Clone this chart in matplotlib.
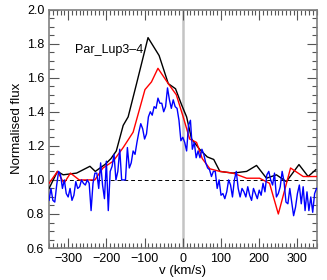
import matplotlib
matplotlib.use("Agg")
import matplotlib.pyplot as plt
from matplotlib.ticker import MultipleLocator

plt.rcParams['font.family'] = ['Liberation Sans', 'DejaVu Sans']

black_v = [-350, -328, -313, -278, -243, -229, -204, -188, -174, -156, -143, -121, -91, -62, -38, -19, -3, 10, 23, 44, 64, 81, 97, 131, 167, 193, 219, 245, 271, 304, 328, 348]
black_f = [0.95, 1.05, 1.03, 1.04, 1.08, 1.05, 1.09, 1.125, 1.17, 1.32, 1.37, 1.565, 1.835, 1.73, 1.565, 1.535, 1.44, 1.37, 1.24, 1.18, 1.135, 1.12, 1.05, 1.04, 1.05, 1.085, 1.01, 1.03, 0.99, 1.09, 1.02, 1.06]

red_v = [-350, -328, -311, -294, -271, -230, -209, -182, -156, -130, -99, -82, -65, -38, -17, 1, 18, 36, 51, 71, 97, 131, 167, 201, 227, 250, 282, 315, 350]
red_f = [0.98, 1.05, 0.98, 1.04, 1.0, 1.0, 1.07, 1.11, 1.19, 1.28, 1.53, 1.575, 1.655, 1.565, 1.5, 1.37, 1.24, 1.22, 1.125, 1.065, 1.05, 1.04, 1.01, 1.01, 0.98, 0.80, 1.07, 1.02, 1.02]

blue_v = list(range(-350, 351, 5))
blue_f = [0.88, 0.95, 0.88, 0.87, 0.97, 1.05, 1.03, 0.95, 1.00, 0.92,
          0.90, 0.95, 0.88, 0.91, 0.99, 0.95, 0.96, 1.00, 0.98, 0.97,
          1.00, 0.98, 0.82, 0.98, 1.04, 1.04, 0.95, 1.10, 0.97, 0.89,
          1.11, 0.82, 1.05, 1.08, 1.15, 1.00, 1.05, 1.18, 1.00, 1.00,
          1.00, 1.19, 1.07, 1.10, 1.17, 1.15, 1.22, 1.28, 1.33, 1.30,
          1.24, 1.27, 1.37, 1.40, 1.38, 1.43, 1.42, 1.48, 1.45, 1.45,
          1.40, 1.43, 1.54, 1.47, 1.42, 1.47, 1.43, 1.42, 1.35, 1.23,
          1.25, 1.22, 1.17, 1.32, 1.35, 1.18, 1.22, 1.13, 1.17, 1.13,
          1.18, 1.15, 1.10, 1.07, 1.06, 1.02, 1.05, 1.05, 0.95, 1.00,
          0.91, 0.92, 0.89, 0.93, 1.00, 0.97, 0.90, 1.00, 1.05, 0.95,
          0.90, 0.95, 0.93, 0.90, 0.96, 0.91, 0.88, 0.95, 0.92, 0.89,
          0.94, 0.91, 0.98, 0.93, 1.03, 1.05, 1.00, 0.97, 1.04, 0.90,
          0.92, 0.96, 1.05, 0.99, 0.87, 0.86, 0.95, 0.87, 0.79, 0.84,
          0.92, 0.97, 0.86, 0.96, 0.82, 0.93, 0.82, 0.90, 0.81, 0.92,
          0.95]

label = "Par_Lup3\u20134"

fig = plt.figure(figsize=(3.27, 2.80), dpi=100)
ax = fig.add_axes([0.150, 0.114, 0.818, 0.852])

ax.axvline(0, color='#c4c4c4', lw=1.8, zorder=1)
ax.axhline(1.0, color='black', lw=0.7, ls=(0, (4, 3)), zorder=1)
ax.plot(black_v, black_f, color='black', lw=1.0, zorder=3)
ax.plot(red_v, red_f, color='red', lw=1.0, zorder=4)
ax.plot(blue_v, blue_f, color='blue', lw=1.0, zorder=5)

ax.text(-283, 1.76, label, fontsize=9, ha='left', va='center')

ax.set_xlim(-350, 350)
ax.set_ylim(0.6, 2.0)
ax.xaxis.set_major_locator(MultipleLocator(100))
ax.xaxis.set_minor_locator(MultipleLocator(10))
ax.yaxis.set_major_locator(MultipleLocator(0.2))
ax.yaxis.set_minor_locator(MultipleLocator(0.05))
ax.yaxis.set_major_formatter(plt.FuncFormatter(lambda v, p: f"{v:.1f}"))
ax.tick_params(which='both', direction='in', top=True, right=True, labelsize=9,
               width=0.8, color='#555555')
ax.tick_params(which='major', length=7)
ax.tick_params(which='minor', length=3.5)
for s in ax.spines.values():
    s.set_linewidth(1.2)
    s.set_color('#808080')

ax.set_xlabel("v (km/s)", fontsize=9.5, labelpad=0)
ax.set_ylabel("Normalised flux", fontsize=9.5, labelpad=3)

fig.savefig("out.png", dpi=100)
